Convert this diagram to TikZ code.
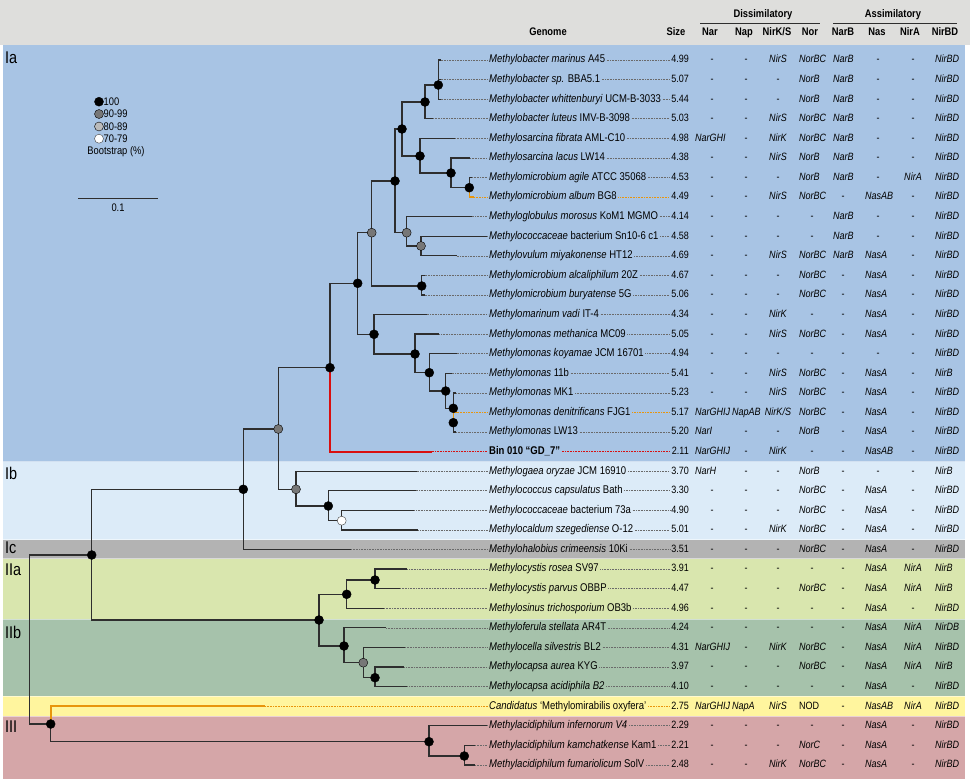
\documentclass[tikz,border=0pt]{standalone}
\usepackage{fontspec}
\setmainfont{Liberation Sans}[FakeStretch=0.85]
\definecolor{hdr}{HTML}{DEDEDC}
\definecolor{cIa}{HTML}{A8C4E4}
\definecolor{cIb}{HTML}{DCEBF8}
\definecolor{cIc}{HTML}{B3B3B3}
\definecolor{cIIa}{HTML}{D9E6AE}
\definecolor{cIIb}{HTML}{A6C2AB}
\definecolor{cY}{HTML}{FFF59E}
\definecolor{cIII}{HTML}{D5A6A8}
\definecolor{brc}{HTML}{2E2E2E}
\definecolor{org}{HTML}{E8950C}
\definecolor{rd}{HTML}{D90F0F}
\definecolor{gninety}{HTML}{777777}
\definecolor{geighty}{HTML}{BBBBBB}
\definecolor{dotc}{HTML}{6A6A6A}
\newcommand\rowy[1]{\pgfmathsetmacro\ry{60+(#1-1)*19.58}}
\def\dashtok{-}
\newcommand\gcell[4]{\def\gtmp{#4}\ifx\gtmp\dashtok\node[gene] (#1) at (#3,\ry) {-};\else\node[gene,anchor=west] (#1) at (#2,\ry) {\textit{#4}};\fi}
\newcommand\ccell[3]{\def\gtmp{#3}\ifx\gtmp\dashtok\node[gene] (#1) at (#2,\ry) {-};\else\node[gene] (#1) at (#2,\ry) {\textit{#3}};\fi}
\newcommand\genes[9]{\rowy{#1}%
  \gcell{ga#1}{695}{712}{#2}\gcell{gb#1}{732}{746}{#3}\ccell{gc#1}{778}{#4}%
  \gcell{gd#1}{799}{812}{#5}\gcell{ge#1}{833}{843}{#6}\gcell{gf#1}{865}{878}{#7}%
  \ccell{gg#1}{913}{#8}\gcell{gh#1}{935}{935}{#9}}
\newcommand\lbl[4]{\rowy{#1}%
  \node[namecell] (L#1) at (489,\ry) {#2};
  \node[sizecell] (S#1) at (689,\ry) {#3};
  \draw[tabdot,#4] (L#1.east) -- (S#1.west);}
\newcommand\leafend[2]{\rowy{#1}\coordinate (e#1) at (#2,\ry);}
\begin{document}
\begin{tikzpicture}[x=1pt,y=-1pt,
  branch/.style={draw=brc,line width=1.3pt},
  leafdot/.style={draw=dotc,line width=0.6pt,dash pattern=on 0.7pt off 0.9pt,shorten >=1.5pt},
  tabdot/.style={draw=dotc,line width=0.6pt,dash pattern=on 0.7pt off 0.9pt,shorten <=1.5pt,shorten >=1.5pt},
  bsA/.style={circle,fill=black,draw=black,line width=0.4pt,inner sep=0pt,minimum size=9pt},
  bsB/.style={bsA,fill=gninety},
  bsC/.style={bsA,fill=geighty},
  bsD/.style={bsA,fill=white,draw=black!75},
  namecell/.style={anchor=west,inner sep=0pt,text height=8pt,text depth=2.2pt,font=\fontsize{11.2}{13}\selectfont},
  sizecell/.style={anchor=east,inner sep=0pt,text height=8pt,text depth=2.2pt,font=\fontsize{10.6}{13}\selectfont},
  gene/.style={inner sep=0pt,text height=8pt,text depth=2.2pt,font=\fontsize{10.6}{13}\selectfont},
  head/.style={inner sep=0pt,text height=8pt,text depth=2.2pt,font=\fontsize{11}{13}\selectfont\bfseries},
  clade/.style={anchor=west,inner sep=0pt,font=\fontsize{17}{19}\selectfont},
  leg/.style={inner sep=0pt,font=\fontsize{11}{13}\selectfont}]
\useasboundingbox (0,0) rectangle (970,784);
% backgrounds
\fill[white] (0,0) rectangle (970,784);
\fill[hdr] (0,0) rectangle (970,45);
\fill[cIa] (3,45) rectangle (965,461.5);
\fill[cIb] (3,461.5) rectangle (965,539.5);
\fill[cIc] (3,539.5) rectangle (965,558.5);
\fill[cIIa] (3,558.5) rectangle (965,619);
\fill[cIIb] (3,619) rectangle (965,696);
\fill[cY] (3,696) rectangle (965,716);
\fill[cIII] (3,716) rectangle (965,779);
\foreach \yy in {461.5,539.5,558.5,619,696,716}{\draw[white,opacity=0.5,line width=0.8pt] (3,\yy) -- (965,\yy);}
% clade labels
\node[clade] (tIa) at (5,58) {Ia};
\node[clade] (tIb) at (5,473) {Ib};
\node[clade] (tIc) at (5,548) {Ic};
\node[clade] (tIIa) at (5,570) {IIa};
\node[clade] (tIIb) at (5,632) {IIb};
\node[clade] (tIII) at (5,727) {III};
% header
\node[head] (hG) at (548,33) {Genome};
\node[head] (hS) at (676,33) {Size};
\node[head] (h1) at (710,33) {Nar};
\node[head] (h2) at (744,33) {Nap};
\node[head] (h3) at (777,33) {NirK/S};
\node[head] (h4) at (810,33) {Nor};
\node[head] (h5) at (843,33) {NarB};
\node[head] (h6) at (877,33) {Nas};
\node[head] (h7) at (910,33) {NirA};
\node[head] (h8) at (945,33) {NirBD};
\node[head] (hD) at (763,15) {Dissimilatory};
\node[head] (hA) at (893,15) {Assimilatory};
\coordinate (dl1) at (700,23); \coordinate (dl2) at (820,23);
\coordinate (al1) at (833,23); \coordinate (al2) at (957,23);
\draw[brc,line width=0.7pt] (dl1) -- (dl2);
\draw[brc,line width=0.7pt] (al1) -- (al2);
% legend
\node[bsA] (k1) at (99,101.7) {};
\node[bsB] (k2) at (99,114) {};
\node[bsC] (k3) at (99,126.5) {};
\node[bsD] (k4) at (99,138.7) {};
\node[leg,anchor=west] (k1t) at (103.5,101.7) {100};
\node[leg,anchor=west] (k2t) at (103.5,114) {90-99};
\node[leg,anchor=west] (k3t) at (103.5,126.5) {80-89};
\node[leg,anchor=west] (k4t) at (103.5,138.7) {70-79};
\node[leg] (kbt) at (116,151.7) {Bootstrap (\%)};
\coordinate (sb1) at (78.3,198.3); \coordinate (sb2) at (157.7,198.3);
\draw[brc,line width=1.3pt] (sb1) -- (sb2);
\node[leg] (sbt) at (118,208) {0.1};
% table labels
\lbl{1}{\textit{Methylobacter marinus} A45}{4.99}{}
\lbl{2}{\textit{Methylobacter sp.} BBA5.1}{5.07}{}
\lbl{3}{\textit{Methylobacter whittenburyi} UCM-B-3033}{5.44}{}
\lbl{4}{\textit{Methylobacter luteus} IMV-B-3098}{5.03}{}
\lbl{5}{\textit{Methylosarcina fibrata} AML-C10}{4.98}{}
\lbl{6}{\textit{Methylosarcina lacus} LW14}{4.38}{}
\lbl{7}{\textit{Methylomicrobium agile} ATCC 35068}{4.53}{}
\lbl{8}{\textit{Methylomicrobium album} BG8}{4.49}{draw=org}
\lbl{9}{\textit{Methyloglobulus morosus} KoM1 MGMO}{4.14}{}
\lbl{10}{\textit{Methylococcaceae} bacterium Sn10-6 c1}{4.58}{}
\lbl{11}{\textit{Methylovulum miyakonense} HT12}{4.69}{}
\lbl{12}{\textit{Methylomicrobium alcaliphilum} 20Z}{4.67}{}
\lbl{13}{\textit{Methylomicrobium buryatense} 5G}{5.06}{}
\lbl{14}{\textit{Methylomarinum vadi} IT-4}{4.34}{}
\lbl{15}{\textit{Methylomonas methanica} MC09}{5.05}{}
\lbl{16}{\textit{Methylomonas koyamae} JCM 16701}{4.94}{}
\lbl{17}{\textit{Methylomonas} 11b}{5.41}{}
\lbl{18}{\textit{Methylomonas} MK1}{5.23}{}
\lbl{19}{\textit{Methylomonas denitrificans} FJG1}{5.17}{draw=org}
\lbl{20}{\textit{Methylomonas} LW13}{5.20}{}
\lbl{21}{\textbf{Bin 010 “GD\_7”}}{2.11}{draw=rd}
\lbl{22}{\textit{Methylogaea oryzae} JCM 16910}{3.70}{}
\lbl{23}{\textit{Methylococcus capsulatus} Bath}{3.30}{}
\lbl{24}{\textit{Methylococcaceae} bacterium 73a}{4.90}{}
\lbl{25}{\textit{Methylocaldum szegediense} O-12}{5.01}{}
\lbl{26}{\textit{Methylohalobius crimeensis} 10Ki}{3.51}{}
\lbl{27}{\textit{Methylocystis rosea} SV97}{3.91}{}
\lbl{28}{\textit{Methylocystis parvus} OBBP}{4.47}{}
\lbl{29}{\textit{Methylosinus trichosporium} OB3b}{4.96}{}
\lbl{30}{\textit{Methyloferula stellata} AR4T}{4.24}{}
\lbl{31}{\textit{Methylocella silvestris} BL2}{4.31}{}
\lbl{32}{\textit{Methylocapsa aurea} KYG}{3.97}{}
\lbl{33}{\textit{Methylocapsa acidiphila B2}}{4.10}{}
\lbl{34}{\textit{Candidatus} ‘Methylomirabilis oxyfera’}{2.75}{draw=org}
\lbl{35}{\textit{Methylacidiphilum infernorum V4}}{2.29}{}
\lbl{36}{\textit{Methylacidiphilum kamchatkense} Kam1}{2.21}{}
\lbl{37}{\textit{Methylacidiphilum fumariolicum} SolV}{2.48}{}
% gene columns
\genes{1}{-}{-}{NirS}{NorBC}{NarB}{-}{-}{NirBD}
\genes{2}{-}{-}{-}{NorB}{NarB}{-}{-}{NirBD}
\genes{3}{-}{-}{-}{NorB}{NarB}{-}{-}{NirBD}
\genes{4}{-}{-}{NirS}{NorBC}{NarB}{-}{-}{NirBD}
\genes{5}{NarGHI}{-}{NirK}{NorBC}{NarB}{-}{-}{NirBD}
\genes{6}{-}{-}{NirS}{NorB}{NarB}{-}{-}{NirBD}
\genes{7}{-}{-}{-}{NorB}{NarB}{-}{NirA}{NirBD}
\genes{8}{-}{-}{NirS}{NorBC}{-}{NasAB}{-}{NirBD}
\genes{9}{-}{-}{-}{-}{NarB}{-}{-}{NirBD}
\genes{10}{-}{-}{-}{-}{NarB}{-}{-}{NirBD}
\genes{11}{-}{-}{NirS}{NorBC}{NarB}{NasA}{-}{NirBD}
\genes{12}{-}{-}{-}{NorBC}{-}{NasA}{-}{NirBD}
\genes{13}{-}{-}{-}{NorBC}{-}{NasA}{-}{NirBD}
\genes{14}{-}{-}{NirK}{-}{-}{NasA}{-}{NirBD}
\genes{15}{-}{-}{NirS}{NorBC}{-}{NasA}{-}{NirBD}
\genes{16}{-}{-}{-}{-}{-}{-}{-}{NirBD}
\genes{17}{-}{-}{NirS}{NorBC}{-}{NasA}{-}{NirB}
\genes{18}{-}{-}{NirS}{NorBC}{-}{NasA}{-}{NirBD}
\genes{19}{NarGHIJ}{NapAB}{NirK/S}{NorBC}{-}{NasA}{-}{NirBD}
\genes{20}{NarI}{-}{-}{NorB}{-}{NasA}{-}{NirBD}
\genes{21}{NarGHIJ}{-}{NirK}{-}{-}{NasAB}{-}{NirBD}
\genes{22}{NarH}{-}{-}{NorB}{-}{-}{-}{NirB}
\genes{23}{-}{-}{-}{NorBC}{-}{NasA}{-}{NirBD}
\genes{24}{-}{-}{-}{NorBC}{-}{NasA}{-}{NirBD}
\genes{25}{-}{-}{NirK}{NorBC}{-}{NasA}{-}{NirBD}
\genes{26}{-}{-}{-}{NorBC}{-}{NasA}{-}{NirBD}
\genes{27}{-}{-}{-}{-}{-}{NasA}{NirA}{NirB}
\genes{28}{-}{-}{-}{NorBC}{-}{NasA}{NirA}{NirB}
\genes{29}{-}{-}{-}{-}{-}{NasA}{-}{NirBD}
\genes{30}{-}{-}{-}{-}{-}{NasA}{NirA}{NirDB}
\genes{31}{NarGHIJ}{-}{NirK}{NorBC}{-}{NasA}{NirA}{NirBD}
\genes{32}{-}{-}{-}{NorBC}{-}{NasA}{NirA}{NirB}
\genes{33}{-}{-}{-}{-}{-}{NasA}{-}{NirBD}
\genes{34}{NarGHIJ}{NapA}{NirS}{{\upshape NOD}}{-}{NasAB}{NirA}{NirBD}
\genes{35}{-}{-}{-}{-}{-}{NasA}{-}{NirBD}
\genes{36}{-}{-}{-}{NorC}{-}{NasA}{-}{NirBD}
\genes{37}{-}{-}{NirK}{NorBC}{-}{NasA}{-}{NirBD}
% tree: internal node positions
\coordinate (n123) at (438.3,85);
\coordinate (nA) at (425,102);
\coordinate (nB) at (402,129);
\coordinate (nC) at (420,156);
\coordinate (nD) at (451,173);
\coordinate (nE) at (469.3,187.7);
\coordinate (nF) at (395,181);
\coordinate (nG) at (406.7,232.7);
\coordinate (nGG) at (421,246);
\coordinate (nH) at (371.7,232.7);
\coordinate (nLM) at (421.7,286);
\coordinate (nI) at (357.7,283.3);
\coordinate (nJ) at (374,334.3);
\coordinate (nK) at (415,354);
\coordinate (nL) at (429.3,372.7);
\coordinate (nM) at (445.7,391);
\coordinate (nN) at (453.3,408.3);
\coordinate (nO) at (453.3,422.7);
\coordinate (nP) at (330,367.7);
\coordinate (nQ) at (278.3,429);
\coordinate (nR) at (296,489.3);
\coordinate (nT) at (328.3,506);
\coordinate (nU) at (341.7,520.7);
\coordinate (nS) at (243.3,489.3);
\coordinate (nV) at (91.7,555);
\coordinate (nW) at (319,620);
\coordinate (nX) at (346.7,594.3);
\coordinate (nY) at (375,580);
\coordinate (nZ) at (344,646);
\coordinate (nAA) at (363.3,662.7);
\coordinate (nAB) at (375,677.7);
\coordinate (root) at (29.3,555);
\coordinate (nAC) at (50.7,724);
\coordinate (nAD) at (429,741.7);
\coordinate (nAE) at (464.3,756);
% leaf ends
\leafend{1}{440.5}\leafend{2}{440.5}\leafend{3}{440.5}\leafend{4}{433}
\leafend{5}{455}\leafend{6}{470}\leafend{7}{472}\leafend{8}{474}
\leafend{9}{471.7}\leafend{10}{486.7}\leafend{11}{456.7}\leafend{12}{424.5}
\leafend{13}{424.5}\leafend{14}{426.7}\leafend{15}{439.3}\leafend{16}{456.7}
\leafend{17}{451.7}\leafend{18}{456}\leafend{19}{458}\leafend{20}{456}
\leafend{21}{431.7}\leafend{22}{416.7}\leafend{23}{415.7}\leafend{24}{414.3}
\leafend{25}{418.3}\leafend{26}{351}\leafend{27}{407.3}\leafend{28}{400}
\leafend{29}{384}\leafend{30}{386}\leafend{31}{405}\leafend{32}{404.3}
\leafend{33}{407.3}\leafend{34}{265}\leafend{35}{486.7}\leafend{36}{475}
\leafend{37}{475}
% dotted leaf extensions
\foreach \i in {1,...,7,9,10,11,12,13,14,15,16,17,18,20,22,23,24,25,26,27,28,29,30,31,32,33,35,36,37}{\draw[leafdot] (e\i) -- (L\i.west);}
\draw[leafdot,draw=org] (e8) -- (L8.west);
\draw[leafdot,draw=org] (e19) -- (L19.west);
\draw[leafdot,draw=rd] (e21) -- (L21.west);
\draw[leafdot,draw=org] (e34) -- (L34.west);
% branches
\draw[branch] (n123) |- (e1); \draw[branch] (n123) |- (e2); \draw[branch] (n123) |- (e3);
\draw[branch] (nA) |- (n123); \draw[branch] (nA) |- (e4);
\draw[branch] (nB) |- (nA); \draw[branch] (nB) |- (nC);
\draw[branch] (nC) |- (e5); \draw[branch] (nC) |- (nD);
\draw[branch] (nD) |- (e6); \draw[branch] (nD) |- (nE);
\draw[branch] (nE) |- (e7); \draw[branch,draw=org] (nE) |- (e8);
\draw[branch] (nF) |- (nB); \draw[branch] (nF) |- (nG);
\draw[branch] (nG) |- (e9); \draw[branch] (nG) |- (nGG);
\draw[branch] (nGG) |- (e10); \draw[branch] (nGG) |- (e11);
\draw[branch] (nH) |- (nF); \draw[branch] (nH) |- (nLM);
\draw[branch] (nLM) |- (e12); \draw[branch] (nLM) |- (e13);
\draw[branch] (nI) |- (nH); \draw[branch] (nI) |- (nJ);
\draw[branch] (nJ) |- (e14); \draw[branch] (nJ) |- (nK);
\draw[branch] (nK) |- (e15); \draw[branch] (nK) |- (nL);
\draw[branch] (nL) |- (e16); \draw[branch] (nL) |- (nM);
\draw[branch] (nM) |- (e17); \draw[branch] (nM) |- (nN);
\draw[branch] (nN) |- (e18); \draw[branch] (nN) |- (nO);
\draw[branch] (nO) |- (e20); \draw[branch,draw=org] (nO) |- (e19);
\draw[branch] (nP) |- (nI); \draw[branch,draw=rd,line width=2.2pt] (nP) |- (e21);
\draw[branch] (nQ) |- (nP); \draw[branch] (nQ) |- (nR);
\draw[branch] (nR) |- (e22); \draw[branch] (nR) |- (nT);
\draw[branch] (nT) |- (e23); \draw[branch] (nT) |- (nU);
\draw[branch] (nU) |- (e24); \draw[branch] (nU) |- (e25);
\draw[branch] (nS) |- (nQ); \draw[branch] (nS) |- (e26);
\draw[branch] (nV) |- (nS); \draw[branch] (nV) |- (nW);
\draw[branch] (nW) |- (nX); \draw[branch] (nW) |- (nZ);
\draw[branch] (nX) |- (nY); \draw[branch] (nX) |- (e29);
\draw[branch] (nY) |- (e27); \draw[branch] (nY) |- (e28);
\draw[branch] (nZ) |- (e30); \draw[branch] (nZ) |- (nAA);
\draw[branch] (nAA) |- (e31); \draw[branch] (nAA) |- (nAB);
\draw[branch] (nAB) |- (e32); \draw[branch] (nAB) |- (e33);
\draw[branch] (root) |- (nV); \draw[branch] (root) |- (nAC);
\draw[branch,draw=org,line width=2.2pt] (nAC) |- (e34); \draw[branch] (nAC) |- (nAD);
\draw[branch] (nAD) |- (e35); \draw[branch] (nAD) |- (nAE);
\draw[branch] (nAE) |- (e36); \draw[branch] (nAE) |- (e37);
% bootstrap circles
\foreach \n in {n123,nA,nB,nC,nD,nE,nF,nLM,nI,nJ,nK,nL,nM,nN,nO,nP,nS,nT,nV,nW,nX,nY,nZ,nAB,nAC,nAD,nAE}{\node[bsA] (c\n) at (\n) {};}
\foreach \n in {nG,nGG,nH,nQ,nR,nAA}{\node[bsB] (c\n) at (\n) {};}
\node[bsD] (cnU) at (nU) {};
\end{tikzpicture}
\end{document}
